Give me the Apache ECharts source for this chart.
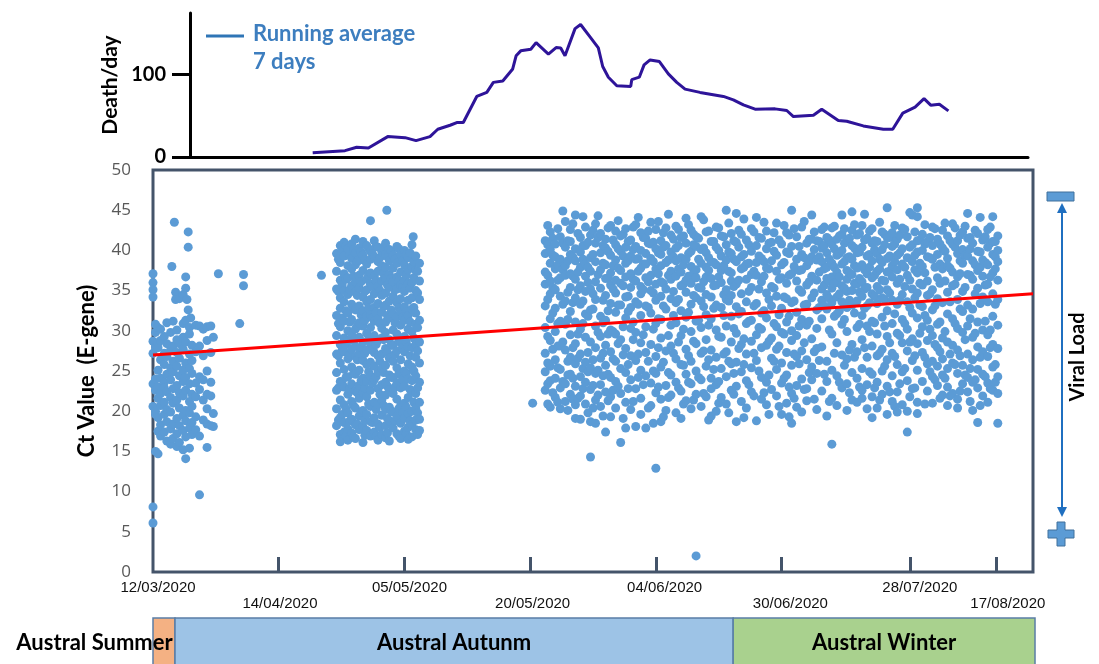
<!DOCTYPE html>
<html>
<head>
<meta charset="utf-8">
<script src="https://cdn.jsdelivr.net/npm/echarts@6/dist/echarts.min.js"></script>
<style>
  html, body { margin: 0; padding: 0; background: #fff; }
  #chart { width: 1099px; height: 664px; }
</style>
</head>
<body>
<div id="chart"></div>
<script>
// x runs on the sample timeline of the figure: 100 units between two date ticks
const tickPos = [100, 200, 300, 400, 500, 602, 671];
const labelPos = [4, 101, 204, 302, 407, 507, 610, 680];
const dateLabels = ['12/03/2020', '14/04/2020', '05/05/2020', '20/05/2020', '04/06/2020', '30/06/2020', '28/07/2020', '17/08/2020'];

// deaths per day, 7 day running average
const deathX = [127, 152.7, 162, 171.3, 186.7, 200.5, 209.2, 220.3, 226.5, 236.3, 241.6, 246.8, 257.5, 265.5, 270.7, 278.2, 286.1, 288.8, 292.5, 300.5, 304.7, 314.5, 320.6, 324.3, 327.7, 335.7, 340.1, 347.6, 354.2, 357.7, 362.2, 368.9, 380, 380.8, 386.8, 390.6, 395.4, 402.8, 409.9, 416.6, 423.2, 435.1, 453.7, 461.6, 469.6, 478.9, 494.8, 504.1, 509.4, 525.3, 531.9, 545.1, 551.8, 565, 580.9, 588.4, 596.4, 606.2, 613.3, 618.6, 625.5, 632.7];
const deathY = [5.3, 7.7, 11.8, 11, 24.8, 23.5, 19.9, 24.8, 33.7, 38.6, 41.9, 41.9, 73.6, 78.5, 90.7, 92.3, 107, 123, 129, 131, 139, 125, 133, 132.5, 123, 156, 161, 146, 132.5, 110, 97, 86.6, 85.8, 94, 97, 112, 118, 116, 101, 90.7, 82.5, 78.5, 73.6, 69.5, 63.4, 58.1, 58.5, 56.5, 49.2, 50.8, 58.1, 44.3, 43.5, 37.8, 33.7, 33.7, 53.3, 60.6, 71, 63, 64.2, 56];

// Ct values, grouped as [x, [ct values at that x]]
const earlyCt = [
  [0, [37.1, 36, 35.1, 34.2, 28.7, 27.2, 23.4, 20.6, 8.1, 6.1]],
  [2, [30.8, 29.8, 28, 24, 22.6, 20, 19.6, 15]],
  [4, [30.4, 28.5, 27.9, 25.1, 23, 21.6, 19.2, 17.5, 14.7]],
  [6, [30.2, 28.8, 26.4, 24.1, 22.2, 20.7, 18.3, 16.9]],
  [9, [29.3, 27.2, 25.8, 23.6, 22.9, 21.1, 19.6, 17.4]],
  [11, [31, 28.4, 26.8, 24.6, 22.4, 20.2, 18.7, 16.3]],
  [14, [29.8, 27.6, 25.4, 23.9, 21.7, 19.9, 17.8, 15.9]],
  [15, [38]],
  [16, [31.2, 28.1, 26.2, 24.9, 22.8, 21, 18.4, 16.6]],
  [17, [43.5]],
  [18, [34.8, 33.9]],
  [19, [30.1, 28.9, 27.3, 25.6, 23.2, 21.4, 19.1, 17.2, 15.6]],
  [21, [34, 28.4, 26.6, 24.4, 22.3, 20.4, 18.2, 16.1]],
  [24, [34.5, 30.9, 29.2, 27.7, 25.1, 23.7, 21.9, 19.5, 17.6, 15.2]],
  [26, [36.7, 35.3, 31.3, 28.6, 26, 24.2, 22.6, 20.1, 18.8, 16.8, 14.1]],
  [27, [33.9]],
  [28, [42.3, 40.4, 32.6]],
  [29, [30.4, 29.6, 27.1, 25.3, 23.4, 21.2, 19.8, 17.9, 15.4]],
  [30, [31.6]],
  [31, [28.2, 26.3, 24.7, 22.1, 20.6, 18.6, 17.1]],
  [34, [30.7, 27.4, 23.5, 21.8, 19.3, 17.7]],
  [37, [30.6, 28.1, 24.3, 22.7, 16.9, 9.6]],
  [40, [30.2, 26.9, 23.9, 21.4, 18.9]],
  [43, [30.5, 28.8, 25, 22.1, 20.3, 18.4, 15.5]],
  [46, [30.6, 27.3, 23.6, 21.9, 18.2]],
  [48, [29.2, 19.7, 18.1]],
  [52, [37.1]],
  [69, [30.9]],
  [72, [37, 35.6]]
];

const autumnCt = [
  [134, [36.9]],
  [146, [39.6, 37.4, 35.2, 31.9, 29.4, 27.1, 24.8, 22.6, 20.3, 18.2]],
  [147.5, [38.9, 34.9, 30.9, 26.9, 22.9, 18.9]],
  [149, [40.6, 38.5, 36.3, 34.1, 32.8, 30.5, 28.3, 26, 23.7, 21.4, 19.2, 17.1, 16.2]],
  [150.5, [39.9, 35.7, 31.6, 27.6, 23.4, 19.6]],
  [152, [41, 39.3, 37.1, 35, 33.6, 31.2, 29.1, 27.4, 25.2, 23, 20.8, 18.6, 17.4]],
  [153.5, [40.6, 36.4, 32.5, 28.3, 24.2, 20.3, 16.9]],
  [155, [40.2, 38.1, 36.6, 34.5, 32.2, 30, 28.7, 26.5, 24.3, 22.1, 19.8, 17.8, 16.4]],
  [156.5, [39.4, 35.1, 31.1, 27, 22.8, 18.8]],
  [158, [40.8, 39, 37.7, 35.6, 33.3, 31.4, 29.5, 27.7, 25.5, 23.4, 21.2, 19, 17.3]],
  [159.5, [40.1, 36.8, 32.9, 28.8, 24.7, 20.7, 16.8]],
  [161, [41.4, 39.7, 38.2, 36.1, 34.8, 32.6, 30.2, 28.1, 26.8, 24.6, 22.5, 20.4, 18.3, 16.6]],
  [162.5, [38.6, 34.4, 30.6, 26.4, 22.3, 18.4]],
  [164, [40.3, 38.8, 36.9, 35.3, 33.1, 31, 29.2, 27.2, 25.1, 23.2, 21.6, 19.4, 17.7]],
  [165.5, [39.8, 36.1, 32, 27.9, 23.8, 19.9]],
  [167, [41.1, 39.4, 37.5, 34.2, 32.5, 30.6, 28.6, 26.3, 24.1, 22.3, 20.1, 18.1, 16.1]],
  [168.5, [38.8, 34.9, 31.3, 27.2, 22.9, 18.9, 17]],
  [170, [40.6, 38.3, 36.4, 35.1, 33.6, 31.8, 29.7, 27.6, 25.8, 23.7, 21.8, 19.6, 17.6]],
  [171.5, [40.2, 36.9, 32.8, 28.9, 24.9, 20.9]],
  [173, [43.7, 39.9, 38.9, 37.2, 35.8, 33.9, 32, 30.4, 28.4, 26.1, 24.4, 22.6, 20.6, 18.7, 16.9]],
  [174.5, [39.6, 35.5, 31.6, 27.6, 23.5, 18.6]],
  [176, [41.2, 39.2, 36.8, 34.6, 32.9, 31.2, 29.4, 27.3, 25.6, 23.9, 21.1, 19.2, 17.4]],
  [177.5, [40.5, 36.2, 32.3, 28.3, 24.3, 20.2, 16.9]],
  [179, [40.4, 38.6, 37.4, 35.5, 33.4, 31.5, 28.8, 26.9, 24.9, 22.8, 20.9, 18.4, 16.4]],
  [180.5, [39.1, 35, 30.9, 26.2, 22.1, 18]],
  [182, [39.8, 38.1, 36.2, 34.4, 32.3, 30.3, 29.1, 27.1, 25.3, 23.3, 21.4, 19.5, 17.1]],
  [183.5, [40.3, 37.1, 33, 28.9, 24.8, 20.7]],
  [185, [40.9, 39.5, 37.9, 36.5, 34.7, 33.2, 31.1, 29.8, 27.8, 25.7, 23.6, 22, 20.2, 18.2, 16.7]],
  [186, [45]],
  [186.5, [39.2, 35.7, 31.9, 27.3, 23.1, 19.1, 17.3]],
  [188, [40.1, 38.7, 37, 35.4, 33.7, 31.6, 28.9, 26.6, 24.5, 22.7, 20.5, 18.8, 16.3]],
  [189.5, [39.9, 36.5, 32.6, 28.2, 24.2, 20]],
  [191, [39.4, 37.8, 36.1, 34.3, 32.1, 30.1, 28.2, 26.2, 24.2, 22.2, 19.9, 17.9]],
  [192.5, [38.9, 35.1, 31, 27.1, 23, 18.8]],
  [194, [40.5, 38.4, 36.7, 35.2, 33.5, 31.7, 29.6, 27.5, 25.4, 23.5, 21.5, 19.3, 17.2]],
  [195.5, [40.2, 36.2, 32.9, 28.8, 24.6, 20.3, 16.9]],
  [197, [39.5, 37.3, 35.7, 34, 32.4, 30.7, 28.5, 26.4, 24.7, 22.9, 20.7, 18.5, 16.6]],
  [198.5, [38.7, 35.4, 31.7, 27.9, 23.9, 19.8]],
  [200, [40, 38.2, 36.3, 34.9, 33, 31.3, 29.3, 27.4, 25, 23.1, 21, 19.1, 17.5]],
  [201.5, [39.5, 36.9, 32.4, 28.6, 24.7, 20.5, 17.2]],
  [203, [39.1, 37.6, 35.9, 33.8, 31.9, 30.2, 28, 25.9, 24, 21.7, 19.7, 18, 16.5]],
  [204.5, [39.7, 35.3, 31.1, 26.9, 22.7, 18.8]],
  [206, [40.7, 38, 36, 34.1, 32.7, 29.9, 27.9, 25.5, 23.8, 22.4, 20, 18.3, 16.8]],
  [207, [41.7]],
  [207.5, [38.6, 36.6, 32.9, 29.1, 25, 21.1]],
  [209, [39.3, 37.5, 35, 32.2, 30.8, 28.3, 26.7, 24.4, 22.2, 20.4, 18.9, 17.7]],
  [210.5, [37.4, 34.7, 30.4, 27.5, 22.9, 19.8, 17.1]],
  [212, [38.4, 36.2, 33.9, 31.3, 28.6, 26, 23.6, 21.1, 19, 17.6]]
];

const winterCt = [
  [302, [21]],
  [312, [41.2, 39.6, 37.3, 35.8, 33.1, 30.4, 27.2, 24.9, 22.6]],
  [314, [43.1, 40.7, 36.9, 33.9, 29.3, 26, 23.4, 20.9]],
  [316, [42.3, 40.1, 38.4, 36.2, 34.6, 31.5, 28.8, 25.6, 23.8, 20.5]],
  [318, [41.5, 39.4, 35.4, 32.2, 27.7, 22.3]],
  [320, [40.8, 39.2, 37.7, 35.1, 32.8, 29.9, 26.4, 24.1, 21.7]],
  [322, [42.7, 38.2, 36.3, 30.9, 28.1, 25.4, 21.1]],
  [324, [41.7, 38.9, 36.6, 34.3, 31.2, 28.1, 25.2, 22.9, 20.3]],
  [326, [44.9, 40.9, 37.6, 33.3, 28.6, 23.7]],
  [328, [43.6, 40.4, 38.1, 36.9, 33.7, 30.8, 27.6, 23.4, 21.2]],
  [330, [41.2, 38.7, 34.8, 31.4, 26.2, 24.5, 20.1]],
  [332, [42.6, 41.1, 39.5, 37.1, 35.4, 32.4, 29.5, 26.7, 24.6, 22.1]],
  [334, [43.3, 39.2, 36.8, 33.5, 27.9, 24.1, 21.5]],
  [336, [44.4, 40.2, 38.7, 36.4, 34.1, 31.1, 28.4, 25.9, 23.1, 20.8, 19.1]],
  [338, [42.1, 37.3, 35.1, 29.6, 26.6, 21.6]],
  [340, [41.6, 39.8, 37.9, 35.6, 33.3, 30.2, 27.1, 24.3, 21.9, 19]],
  [342, [44.2, 40.6, 38.9, 33.7, 30.9, 25.3, 22.8]],
  [344, [42.9, 40.6, 38.3, 36.8, 34.9, 32.1, 29.2, 26.1, 23.6, 20.9]],
  [346, [41, 37.9, 36, 31.8, 27.3, 24.9, 19.8]],
  [348, [41.9, 39.1, 37.4, 35.2, 32.6, 28.6, 25.4, 22.7, 18.7, 14.3]],
  [350, [42.5, 39.5, 34.6, 32.7, 26.4, 23.2, 20.4]],
  [352, [43.3, 40.9, 38.6, 36.1, 33.9, 30.6, 27.9, 24.7, 21.4, 18.5]],
  [354, [44.3, 41.6, 37, 29.8, 25.1, 22]],
  [356, [42.1, 39.7, 37.6, 35.3, 31.8, 29.3, 26.6, 23.3, 20.6]],
  [358, [40.6, 38.4, 33.8, 31, 27.2, 24.4, 19.4]],
  [360, [41.4, 40.3, 38.2, 36.5, 34.4, 31.3, 28.2, 25.7, 22.4, 17.4]],
  [362, [42.8, 39.9, 36.6, 32.5, 29.6, 24.6, 21.3]],
  [364, [43.1, 39.4, 37.2, 35.7, 33.4, 30.1, 27.4, 24.2, 21.8, 19.3]],
  [366, [41.3, 38.1, 35.2, 29.9, 26.5, 22.6]],
  [368, [42.4, 40.7, 38.8, 36.3, 34.7, 32.3, 29.6, 26.2, 23.7, 20.4]],
  [370, [43.7, 40.2, 37.8, 33.2, 28.4, 23.1]],
  [372, [41.8, 39.9, 37.5, 35.9, 33.2, 28.9, 25.3, 22.2, 16.1]],
  [374, [42, 39.3, 35.6, 30.5, 27, 19.1]],
  [376, [42.7, 40.4, 38.4, 36.7, 34.2, 31.6, 27.8, 24.8, 21.1, 17.9]],
  [378, [41.1, 38.7, 34.3, 32.4, 25.8, 22.8]],
  [380, [41.3, 39.3, 37.1, 35.4, 32.9, 30.3, 26.9, 23.9, 20.2]],
  [382, [42.9, 40.1, 36.4, 31.1, 28.9, 21.2]],
  [384, [43.2, 40.5, 38.9, 36.2, 33.6, 29.8, 26.3, 22.8, 18.1]],
  [386, [44.1, 39, 37.4, 33.3, 27.1, 24.2]],
  [388, [42.2, 40, 37.8, 35.5, 34.6, 31.9, 28.5, 25.1, 21.6, 19.6]],
  [390, [41.6, 38.3, 35.1, 29.5, 23.3]],
  [392, [41.5, 39.6, 38.3, 36.6, 33.1, 30.5, 27.3, 24.4, 17.9]],
  [394, [42.4, 40.9, 36.1, 32.9, 26.2, 20.4]],
  [396, [43.5, 40.8, 39, 36.9, 35, 32.2, 28.3, 23.5, 20.7]],
  [398, [41, 38.6, 34.7, 30.2, 25, 18.5]],
  [400, [42.6, 40.2, 37.7, 35.8, 33.8, 30.9, 26.8, 24.7, 22.3, 12.9]],
  [402, [43.6, 39.7, 37.1, 31.5, 27.9, 23]],
  [404, [41.2, 39.5, 38.1, 36.1, 34.3, 31.4, 29.1, 25.5, 21.5, 18.7]],
  [406, [42.2, 40.4, 35.9, 33.1, 26.1, 19.3]],
  [408, [42.8, 40.6, 38.5, 35.2, 32.7, 27.5, 23.2, 20.1]],
  [410, [44.5, 38.8, 36.9, 29.4, 24.8, 21.7]],
  [412, [41.9, 39.8, 37.4, 36.4, 34, 30.7, 28.1, 24.5, 22]],
  [414, [41.4, 39.2, 34.9, 31.9, 27.2]],
  [416, [43, 40.3, 38.7, 36.8, 33.5, 31, 26.5, 23.6, 19.8]],
  [418, [42.6, 40.6, 37.7, 33.9, 28.6, 22.9]],
  [420, [41.6, 39.1, 37.3, 35.6, 32.5, 29.4, 25.8, 22.5, 19.1]],
  [422, [41.8, 38.2, 35.8, 30.2, 25.7, 20.9]],
  [424, [44, 40.9, 38.9, 36.3, 34.8, 31.7, 27.7, 24.6, 21.3]],
  [426, [43.2, 39.6, 36.8, 32.3, 26.9, 23.6]],
  [428, [42.5, 39.9, 38, 35.9, 33.3, 29.9, 26.2, 23.4, 20.3]],
  [430, [42, 40.7, 37.2, 34.4, 28.7, 21.4]],
  [432, [41.7, 40.5, 37.6, 36.6, 34.1, 31.2, 28.4, 25, 22.1, 2]],
  [434, [41.5, 38.9, 35.4, 31.3, 24.2]],
  [436, [44.2, 40.1, 38.4, 35.3, 33.7, 30.4, 27.2, 23.9, 20.6]],
  [438, [43.8, 40.3, 36.1, 33, 27.5, 22.2]],
  [440, [42.3, 39.7, 37.9, 36.7, 34.5, 32, 28.9, 25.6, 21.8]],
  [442, [42.4, 39.1, 37.5, 30.7, 26.4, 18.9]],
  [444, [41.1, 38.6, 36.5, 34.2, 31.5, 27.6, 24.1, 22.8, 19.4]],
  [446, [41.1, 38.5, 35.6, 32.8, 25.2]],
  [448, [42.9, 40.4, 38.2, 35.7, 33.2, 30.1, 26.7, 23.3, 20]],
  [450, [42.8, 40, 36.7, 29.3, 23.7, 21]],
  [452, [41.8, 39.3, 37.5, 36, 32.9, 29.2, 25.3, 21.7]],
  [454, [41.7, 38.1, 34.5, 31.9, 27.1]],
  [456, [45, 40.7, 38.8, 35.1, 33.9, 30.6, 27.4, 24.3, 20.9]],
  [458, [43.4, 39.8, 37.4, 33.7, 26.2, 19.8]],
  [460, [42.1, 39.6, 37.2, 36.2, 34.4, 31.8, 28.6, 25.9, 22.6]],
  [462, [41.2, 38.9, 35.5, 30.3, 24.7, 22.1]],
  [464, [44.6, 41, 38.6, 35.8, 33, 29.7, 26.1, 23.1, 18.7]],
  [466, [42.5, 40.4, 36.3, 32.1, 27.8]],
  [468, [42, 39.2, 37.7, 34.6, 32.4, 28.3, 24.9, 21.2]],
  [470, [43.9, 39.5, 37.9, 29, 25.8, 19.2]],
  [472, [41.3, 38.3, 36.4, 33.6, 30.9, 27.1, 23.8, 20.4]],
  [474, [40.7, 38.4, 34.9, 31.2, 23.3]],
  [476, [42.7, 39.9, 37, 35.4, 31.3, 28.7, 25.4, 22.4]],
  [478, [42.3, 37.4, 33.1, 27.2, 21.9]],
  [480, [44.1, 40.6, 38.5, 36.9, 33.4, 29.5, 26.3, 18.8]],
  [482, [41.6, 39.3, 35.2, 30.4, 25]],
  [484, [41.5, 39, 36.1, 32.2, 30.2, 27.9, 24.2, 21.5]],
  [486, [43.5, 38.6, 36.8, 32.5, 22.3]],
  [488, [42.4, 40.2, 37.8, 34.7, 31.6, 28.2, 23.6, 20.8]],
  [490, [40.9, 37.7, 33.9, 28.7, 24.5, 19.6]],
  [492, [41, 38.7, 35.5, 33.1, 29.1, 26.6, 22.7]],
  [494, [42.2, 39.9, 35.3, 30.9, 26.2]],
  [496, [43.4, 39.4, 37.4, 34.3, 30.5, 27.7, 25.2, 21.9]],
  [498, [41.3, 36.4, 32, 28.1, 20.6]],
  [500, [40.8, 38.2, 36.6, 32.8, 29.8, 26, 23.5, 19.6]],
  [502, [43.1, 38.5, 34.2, 29.6, 24.1]],
  [504, [42.2, 39.8, 35.9, 34, 31.1, 27.3, 24.5, 21]],
  [506, [41.9, 39.6, 36.9, 31.8, 23, 19.3]],
  [508, [45, 40.5, 37.1, 33.5, 30, 28.8, 25.7, 22.2, 18.5]],
  [510, [42.7, 38, 33.7, 27.1, 21.6]],
  [512, [41.7, 38.9, 36.2, 32.3, 29.4, 26.8, 23.2, 20.5]],
  [514, [40.5, 37.5, 35.1, 30.6, 25.9]],
  [516, [42.9, 39.5, 37.6, 34.8, 31.4, 27.5, 24, 19.9]],
  [518, [43.6, 39.1, 33.2, 28.5, 22.7]],
  [520, [40.9, 38.1, 35.7, 33.3, 30.7, 26.4, 22.8, 21.3]],
  [522, [41.4, 38.6, 36.1, 31.2, 24.8]],
  [524, [44.4, 41.4, 39.2, 36.8, 34.1, 29, 25.5, 23.9]],
  [526, [42.3, 40.1, 34.7, 27.4, 21.5]],
  [528, [41.2, 38.8, 36.3, 32.6, 30.3, 27.8, 24.7, 20.2]],
  [530, [41.1, 39.2, 37.3, 32.9, 26.3]],
  [532, [42.6, 40.3, 38.6, 35.2, 33.8, 31.5, 28, 22.5]],
  [534, [42.9, 40.6, 37.7, 35.7, 33.1, 24.6]],
  [536, [41.6, 39.7, 37.9, 36.5, 34.5, 32.7, 26.2, 23.7, 19.4]],
  [538, [41.3, 38.9, 36.2, 34, 30.1, 21.2]],
  [540, [42.8, 40.8, 38.4, 36.7, 35.3, 33.5, 29.6, 25.1, 21.6, 15.9]],
  [542, [43, 40.2, 37.9, 35.9, 31.8, 27.2]],
  [544, [41.4, 39.4, 37.3, 36, 34.2, 32.1, 28.5, 24.4, 20.7]],
  [546, [41.8, 39.6, 36.7, 34.6, 32.5, 23.6]],
  [548, [44.4, 42, 40, 38.3, 35.6, 33.6, 30.8, 27, 22.9]],
  [550, [42.7, 40.9, 38.6, 35.3, 31.4, 25.7]],
  [552, [41.3, 39.1, 37.5, 36.4, 34.9, 32.9, 29.9, 26.5, 23.4, 20.1]],
  [554, [41.5, 39.2, 37.2, 33.8, 27.6, 22.3]],
  [556, [44.8, 42.5, 40.6, 38.9, 37, 35, 33.2, 28.3, 24.8, 21.4]],
  [558, [43.2, 40.3, 38.1, 35.9, 32.2, 26.7]],
  [560, [41.9, 39.7, 37.8, 35.8, 33.7, 30.4, 27.4, 24.1, 21.1]],
  [562, [42.1, 39.8, 36.5, 34.8, 30.8, 23]],
  [564, [43.1, 40.4, 38.2, 36.1, 34.3, 31.9, 28.9, 25.3, 22.6, 21.6]],
  [566, [44.5, 41.3, 37.6, 35.2, 32.8, 27.9]],
  [568, [41.5, 39.3, 37.1, 35.4, 33.1, 30.6, 26.7, 23.3, 20.3]],
  [570, [42.4, 39.5, 37.9, 33.5, 29.9, 24.9]],
  [572, [42.7, 40.9, 38.7, 36.6, 34.6, 31.2, 28.1, 24.6, 21.8, 19.2]],
  [574, [41.2, 40.1, 36.9, 34.3, 31, 22.9]],
  [576, [41.1, 39.6, 37.4, 35.5, 33.4, 29.6, 26.9, 23.6, 20.4]],
  [578, [43.5, 38.9, 37.7, 35.1, 27.2, 21.4]],
  [580, [42.3, 40.1, 38.5, 36.3, 34.1, 31.7, 27.7, 25, 22.1]],
  [582, [42, 40.7, 36.2, 33.9, 30.6, 25.6]],
  [584, [45.3, 41.6, 39, 37.3, 35.1, 32.5, 29.3, 26.4, 23.1, 19.6]],
  [586, [41.6, 39.3, 37.4, 34.7, 28.5, 22.4]],
  [588, [42.2, 40.5, 38.1, 36.7, 33.8, 30.9, 27.2, 24.4, 21.2]],
  [590, [43.1, 40.8, 38.6, 32.1, 26.8, 20.6]],
  [592, [41.4, 39.4, 37.6, 35.9, 33.3, 29.7, 25.8, 22.4, 19.9]],
  [594, [41.9, 39.7, 36.4, 33.8, 29.4, 23.4]],
  [596, [42.8, 40.2, 38.3, 34.5, 31.4, 28.5, 24.9, 20.8]],
  [598, [42.6, 37.9, 35.5, 30.9, 25.3]],
  [600, [41.7, 39.1, 36.9, 33.6, 30.2, 27.5, 23.8, 20, 17.4]],
  [602, [44.7, 40.4, 36.3, 32.9, 28.6, 21.8]],
  [604, [44.4, 40.7, 38.6, 35.2, 32.2, 29, 26.3, 22.8]],
  [606, [42.3, 39.4, 37.6, 34.1, 26.9, 22.9]],
  [608, [45.3, 44.2, 41.2, 39.8, 37.2, 34.7, 31.6, 28.4, 25.1, 21.1, 19.7]],
  [610, [41.3, 38.4, 35.9, 33.2, 29.7]],
  [612, [42, 40, 38, 35.7, 33, 30.5, 27.3, 23.7]],
  [614, [43.2, 40.8, 37.2, 31.9, 26.7, 20.9]],
  [616, [41.1, 39.2, 36.2, 34.4, 31.3, 28.8, 25.9, 22.5]],
  [618, [41.6, 39.1, 34.6, 30.2, 24.9]],
  [620, [42.9, 40.6, 38.9, 35.1, 32.6, 29.4, 26.2, 24.3, 21]],
  [622, [42.7, 37.9, 33.1, 28.3, 23.9]],
  [624, [41.4, 39.5, 36.6, 34, 30.8, 27.9, 25.6, 23.2]],
  [626, [40.8, 38.3, 35.9, 31.1, 27.4, 21.6]],
  [628, [42.5, 40.3, 37.7, 33.5, 29.1, 26.5, 24.5, 22]],
  [630, [43.4, 39.9, 36.2, 29.9, 24.1]],
  [632, [41.8, 39, 38.1, 34.8, 32.1, 28.6, 25.3, 23, 20.7]],
  [634, [41.2, 37.8, 33.6, 27.1, 21.9]],
  [636, [43.3, 40.8, 37.3, 35.6, 31.5, 28.2, 26, 22.2]],
  [638, [42.8, 40.4, 35.8, 30.9, 25.8]],
  [640, [41.2, 39.6, 36.7, 33.9, 30.3, 27.6, 24.7, 21.5, 20.4]],
  [642, [41.9, 38.7, 37.1, 32.7, 26.9, 22.5]],
  [644, [42.3, 40.1, 38.4, 34.9, 32.4, 29.8, 25.7, 23.4]],
  [646, [43, 39.4, 35.4, 28.9, 24.5]],
  [648, [44.6, 41.5, 39.3, 37, 33.2, 30.6, 27.1, 24.2, 22.4]],
  [650, [41.6, 40.2, 36.9, 31.5, 25.3, 21.2]],
  [652, [40.9, 38.7, 36.4, 32.7, 29.2, 26.4, 23.6, 20.1]],
  [654, [42.5, 38.2, 34.6, 29.7, 23.9]],
  [656, [42.1, 39.9, 37.5, 35.3, 31.1, 28, 25.2, 22.9, 18.6]],
  [658, [44.1, 39.8, 37.9, 33.4, 26.7, 20.7]],
  [660, [41.3, 38.8, 36.8, 34.2, 30.1, 27.4, 24.6, 21.9]],
  [662, [41.7, 38.5, 35.7, 31.2, 24.3]],
  [664, [42.6, 40.4, 38.2, 35.8, 33.6, 29.5, 26.8, 23.5, 21.1]],
  [666, [42.9, 40.9, 36.7, 30.1, 27.9, 22.8]],
  [668, [44.2, 41.1, 39.5, 37.2, 34.6, 31.8, 28.3, 25.5, 22.6]],
  [670, [41.1, 39.2, 37.7, 33.3, 25.8, 23.6]],
  [672, [41.8, 40, 38.6, 36.3, 33.9, 30.7, 27.8, 24.3, 22.2, 18.5]]
];

// linear trend of Ct over the period
const trendX = [0, 700];
const trendY = [27, 34.6];

// seasons band under the time axis
const seasonNames = ['Austral Summer', 'Austral Autunm', 'Austral Winter'];
const seasonStart = [0, 17.5, 461.5];
const seasonEnd = [17.5, 461.5, 701.6];
const seasonColors = ['#f4b183', '#9dc3e6', '#a9d18e'];

const chart = echarts.init(document.getElementById('chart'));

const ctPoints = [...earlyCt, ...autumnCt, ...winterCt].flatMap(([x, vals]) => vals.map((v) => [x, v]));
const boldFont = 'Lato';
const frame = '#44546a';

chart.setOption({
  animation: false,
  grid: [
    { left: 153, right: 66, top: 170, bottom: 92, show: true, borderColor: frame, borderWidth: 3 },
    { left: 190, right: 71, top: 13, bottom: 507 },
    { left: 153, right: 66, top: 618, bottom: 0 }
  ],
  xAxis: [
    {
      gridIndex: 0, type: 'value', min: 0, max: 700,
      axisLine: { show: false },
      splitLine: { show: false },
      axisTick: { show: true, inside: true, length: 15, customValues: tickPos, lineStyle: { color: frame, width: 3 } },
      axisLabel: {
        customValues: labelPos,
        formatter: (v) => {
          const i = labelPos.indexOf(v);
          return i % 2 ? '\n' + dateLabels[i] : dateLabels[i];
        },
        color: '#111', fontSize: 15, fontFamily: 'Liberation Sans', lineHeight: 16, margin: 8
      }
    },
    {
      gridIndex: 1, type: 'value', min: 29.4, max: 696,
      axisLine: { lineStyle: { color: '#000', width: 3 } },
      axisTick: { show: false }, axisLabel: { show: false }, splitLine: { show: false }
    },
    {
      gridIndex: 2, type: 'value', min: 0, max: 700, show: false
    }
  ],
  yAxis: [
    {
      gridIndex: 0, type: 'value', min: 0, max: 50, interval: 5,
      axisLine: { show: false }, axisTick: { show: false }, splitLine: { show: false },
      axisLabel: { color: '#595959', fontSize: 17, fontFamily: 'Open Sans', margin: 22 },
      name: 'Ct Value  (E-gene)', nameLocation: 'middle', nameGap: 55,
      nameTextStyle: { color: '#000', fontSize: 22, fontWeight: 'bold', fontFamily: boldFont }
    },
    {
      gridIndex: 1, type: 'value', min: 0, max: 175,
      axisLine: { show: true, lineStyle: { color: '#000', width: 3 } },
      axisTick: { show: true, length: 18, customValues: [0, 100], lineStyle: { color: '#000', width: 3 } },
      splitLine: { show: false },
      axisLabel: { customValues: [0, 100], color: '#000', fontSize: 20, fontWeight: 'bold', fontFamily: boldFont, margin: 24 },
      name: 'Death/day', nameLocation: 'middle', nameGap: 67,
      nameTextStyle: { color: '#000', fontSize: 21, fontWeight: 'bold', fontFamily: boldFont }
    },
    { gridIndex: 2, type: 'value', min: 0, max: 1, show: false }
  ],
  graphic: [
    { type: 'line', shape: { x1: 206, y1: 36, x2: 244, y2: 36 }, style: { stroke: '#2e75b6', lineWidth: 3 } },
    { type: 'text', x: 253, y: 34, style: { text: 'Running average', font: 'bold 22px Lato', fill: '#3d7ebf', verticalAlign: 'middle' } },
    { type: 'text', x: 253, y: 62, style: { text: '7 days', font: 'bold 22px Lato', fill: '#3d7ebf', verticalAlign: 'middle' } },
    { type: 'rect', shape: { x: 1047, y: 192, width: 27, height: 9 }, style: { fill: '#5b9bd5', stroke: '#41719c', lineWidth: 1 } },
    { type: 'line', shape: { x1: 1062, y1: 208, x2: 1062, y2: 512 }, style: { stroke: '#1f6fc0', lineWidth: 2 } },
    { type: 'polygon', shape: { points: [[1062, 203], [1057, 213], [1067, 213]] }, style: { fill: '#1f6fc0' } },
    { type: 'polygon', shape: { points: [[1062, 517], [1057, 507], [1067, 507]] }, style: { fill: '#1f6fc0' } },
    {
      type: 'polygon',
      shape: { points: [[1057, 522], [1065, 522], [1065, 530], [1074, 530], [1074, 538], [1065, 538], [1065, 546], [1057, 546], [1057, 538], [1048, 538], [1048, 530], [1057, 530]] },
      style: { fill: '#5b9bd5', stroke: '#41719c', lineWidth: 1 }
    },
    {
      type: 'text', x: 1078, y: 357, rotation: Math.PI / 2,
      style: { text: 'Viral Load', font: 'bold 20px Lato', fill: '#000', align: 'center', verticalAlign: 'middle' }
    }
  ],
  series: [
    {
      type: 'scatter', xAxisIndex: 0, yAxisIndex: 0,
      data: ctPoints, symbolSize: 9,
      itemStyle: { color: '#5b9bd5', opacity: 1 }, z: 2
    },
    {
      type: 'line', xAxisIndex: 0, yAxisIndex: 0,
      data: trendX.map((x, i) => [x, trendY[i]]),
      symbol: 'none', lineStyle: { color: '#ff0000', width: 3 }, z: 3
    },
    {
      type: 'line', xAxisIndex: 1, yAxisIndex: 1,
      data: deathX.map((x, i) => [x, deathY[i]]),
      symbol: 'none', lineStyle: { color: '#2e1499', width: 3 }
    },
    {
      type: 'custom', xAxisIndex: 2, yAxisIndex: 2,
      data: seasonNames.map((n, i) => [seasonStart[i], seasonEnd[i]]),
      renderItem: (params, api) => {
        const i = params.dataIndex;
        const a = api.coord([api.value(0), 1]);
        const b = api.coord([api.value(1), 0]);
        return {
          type: 'rect',
          shape: { x: a[0], y: a[1], width: b[0] - a[0], height: b[1] - a[1] + 4 },
          style: { fill: seasonColors[i], stroke: '#5a7ea6', lineWidth: 1.5 },
          textContent: {
            style: { text: seasonNames[i], font: 'bold 22px Lato', fill: '#000' }
          },
          textConfig: { position: i === 0 ? 'insideRight' : 'inside', distance: 3 }
        };
      }
    }
  ]
});
</script>
</body>
</html>
